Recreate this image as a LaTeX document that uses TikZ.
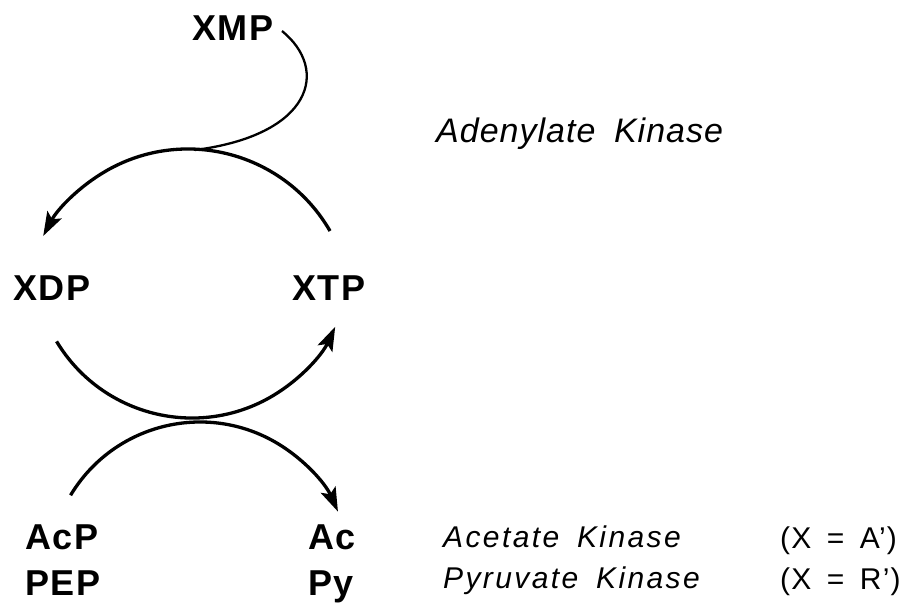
\documentclass[tikz,border=0pt]{standalone}
\usepackage{fontspec}
\setmainfont{Liberation Sans}
\usetikzlibrary{arrows.meta,calc}
\tikzset{
  lbl/.style={inner sep=0pt, anchor=base west, font=\fontsize{36}{36}\selectfont\bfseries\addfontfeatures{LetterSpace=5}},
  enz/.style={inner sep=0pt, anchor=base west, font=\fontsize{30}{30}\selectfont\itshape\addfontfeatures{LetterSpace=8}},
  xeq/.style={inner sep=0pt, anchor=base west, font=\fontsize{30}{30}\selectfont\addfontfeatures{LetterSpace=4}},
  arc line/.style={line width=3.3pt},
  tail line/.style={line width=2.3pt},
  tip/.style={-{Stealth[length=24pt,width=16pt,inset=5pt]}}
}
\begin{document}
\begin{tikzpicture}[x=1pt,y=1pt]
\useasboundingbox (0,0) rectangle (917,-603);
% labels
\node[lbl] (xmp) at (192,-40) {XMP};
\node[lbl] (xdp) at (13,-300) {XDP};
\node[lbl] (xtp) at (292,-300) {XTP};
\node[lbl] (acp) at (25,-549) {AcP};
\node[lbl] (pep) at (25,-595) {PEP};
\node[lbl] (ac) at (308,-549) {Ac};
\node[lbl] (py) at (308,-595) {Py};
\node[enz, font=\fontsize{34}{34}\selectfont\itshape\addfontfeatures{LetterSpace=3}] (adk) at (436,-142) {Adenylate\hspace{8pt} Kinase};
\node[enz] (ack) at (443,-547) {Acetate\hspace{7pt} Kinase};
\node[enz] (pyk) at (443,-588) {Pyruvate\hspace{7pt} Kinase};
\node[xeq] (xa) at (780,-548) {(X\hspace{6pt} =\hspace{6pt} A')};
\node[xeq] (xr) at (780,-589) {(X\hspace{6pt} =\hspace{6pt} R')};
% arc centres
\coordinate (c1) at (188,-313);
\coordinate (c2) at (192,-260);
\coordinate (c3) at (200,-573);
\coordinate (xmpend) at (282,-31);
\coordinate (join) at (195,-150);
\coordinate (xtpend) at ($(c1)+(30:164)$);
\coordinate (xdpin) at ($(c2)+(211:158)$);
\coordinate (acpend) at ($(c3)+(149:151)$);
% XMP tail
\draw[tail line] (xmpend) .. controls (330,-70) and (312,-135) .. (join);
% adenylate kinase arc XTP -> XDP
\draw[arc line, tip] (xtpend) arc[start angle=30, end angle=152, radius=164];
% XDP -> XTP
\draw[arc line, tip] (xdpin) arc[start angle=211, end angle=335, radius=158];
% AcP -> Ac
\draw[arc line, tip] (acpend) arc[start angle=149, end angle=24, radius=151];
\end{tikzpicture}
\end{document}
